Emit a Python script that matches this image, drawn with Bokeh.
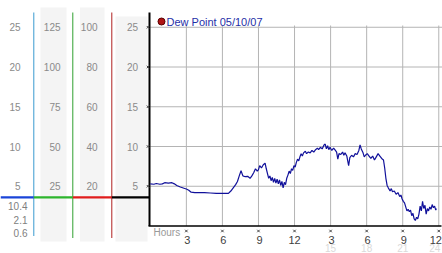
from bokeh.plotting import figure
from bokeh.models import Range1d
from bokeh.core.properties import value
from bokeh.embed import file_html
from bokeh.resources import INLINE

# ---------------- data ----------------
hours = [0.0, 0.3, 0.5, 0.8, 1.0, 1.2, 1.5, 1.8, 2.0, 2.2, 2.5, 2.8, 3.0, 3.2, 3.4, 3.7,
         4.0, 4.5, 5.0, 5.5, 6.0, 6.5, 6.7, 6.9, 7.1, 7.25, 7.4, 7.55, 7.7, 7.9, 8.1, 8.3,
         8.45, 8.6, 8.75, 8.9, 9.0, 9.1, 9.25, 9.4, 9.55, 9.65, 9.75, 9.85, 9.95, 10.05,
         10.15, 10.25, 10.35, 10.45, 10.55, 10.65, 10.75, 10.85, 10.95, 11.05, 11.15, 11.25,
         11.35, 11.45, 11.55, 11.65, 11.75, 11.85, 11.95, 12.05, 12.15, 12.25, 12.35, 12.45,
         12.55, 12.65, 12.75, 12.9, 13.0, 13.15, 13.3, 13.45, 13.6, 13.75, 13.9, 14.0, 14.15,
         14.3, 14.45, 14.55, 14.65, 14.75, 14.85, 14.95, 15.1, 15.25, 15.4, 15.5, 15.6, 15.7,
         15.85, 16.0, 16.1, 16.2, 16.35, 16.5, 16.6, 16.75, 16.9, 17.05, 17.2, 17.35, 17.45,
         17.55, 17.7, 17.8, 17.9, 18.05, 18.2, 18.35, 18.5, 18.65, 18.8, 18.95, 19.1, 19.25,
         19.4, 19.5, 19.6, 19.7, 19.8, 19.95, 20.05, 20.15, 20.3, 20.45, 20.6, 20.75, 20.85,
         20.95, 21.05, 21.15, 21.25, 21.35, 21.45, 21.55, 21.65, 21.75, 21.85, 21.95, 22.05,
         22.15, 22.25, 22.35, 22.45, 22.55, 22.65, 22.75, 22.85, 22.95, 23.05, 23.15, 23.25,
         23.35, 23.45, 23.55, 23.65, 23.75, 23.8]
dew = [5.3, 5.25, 5.35, 5.25, 5.3, 5.45, 5.4, 5.45, 5.3, 5.1, 4.9, 4.75, 4.65, 4.5, 4.25, 4.2,
       4.2, 4.2, 4.15, 4.1, 4.1, 4.1, 4.4, 4.8, 5.2, 5.6, 6.3, 6.95, 6.3, 6.2, 6.25, 6.0,
       6.3, 6.7, 7.2, 6.9, 7.1, 7.6, 7.3, 7.7, 7.9, 7.2, 6.6, 6.0, 6.3, 5.7,
       6.1, 5.5, 6.0, 5.4, 5.9, 5.3, 5.8, 5.1, 5.6, 4.8, 5.5, 5.2,
       6.0, 6.4, 6.9, 6.6, 7.2, 7.0, 7.6, 7.4, 8.0, 8.4, 8.2, 8.7,
       9.1, 8.8, 9.2, 9.4, 9.1, 9.3, 9.2, 9.5, 9.3, 9.6, 9.8, 9.6, 9.9,
       9.7, 10.2, 10.3, 9.7, 10.1, 9.6, 9.9, 9.5, 9.8, 9.5, 9.3, 8.4, 9.1,
       9.0, 9.3, 8.9, 9.2, 8.8, 7.6, 8.6, 8.9, 8.7, 9.1, 9.0, 9.5, 10.2,
       9.7, 9.2, 8.7, 8.9, 9.1, 8.8, 8.5, 8.8, 8.3, 8.7, 9.1, 8.8, 8.5,
       8.3, 7.3, 6.0, 5.1, 4.8, 4.4, 4.7, 4.3, 4.4, 4.0, 4.2, 3.7, 3.9,
       3.4, 3.1, 2.9, 2.4, 1.9, 2.1, 1.8, 2.0, 1.3, 1.6, 0.9, 0.7,
       1.1, 0.9, 1.5, 2.5, 1.9, 3.1, 2.2, 2.6, 1.5, 2.2, 1.9, 2.4,
       2.1, 2.7, 2.3, 2.5, 2.0, 2.2]

x_ticks = [3, 6, 9, 12, 15, 18, 21, 24]
x_tick_labels = ["3", "6", "9", "12", "3", "6", "9", "12"]
x_sub_ticks = [15, 18, 21, 24]
x_sub_labels = ["15", "18", "21", "24"]
y_ticks = [5, 10, 15, 20, 25]
scale1_labels = [25, 20, 15, 10, 5]
scale2_labels = [125, 100, 75, 50, 25]
scale3_labels = [100, 80, 60, 40, 20]
scale4_labels = [25, 20, 15, 10, 5]
stats_labels = ["10.4", "2.1", "0.6"]
legend_text = "Dew Point 05/10/07"
current_level = 3.6

# ---------------- geometry helpers (pixel -> data) ----------------
W, H = 442, 253
X0, XS = 149.8, 12.02
Y0, YS = 225.5, 7.95


def hx(px):
    return (px - X0) / XS


def vy(py):
    return (Y0 - py) / YS


FONT = value("Liberation Sans")

p = figure(width=W, height=H, output_backend="svg", toolbar_location=None,
           x_range=Range1d(hx(0), hx(W)), y_range=Range1d(vy(H), vy(0)),
           x_axis_location=None, y_axis_location=None, min_border=0,
           outline_line_color=None, background_fill_color="white",
           border_fill_color="white")
p.xgrid.visible = False
p.ygrid.visible = False

# gray column backgrounds
p.quad(left=[hx(40), hx(79.5), hx(115)], right=[hx(66), hx(104), hx(147)],
       bottom=[vy(241), vy(241), vy(241)], top=[vy(7), vy(7), vy(16)],
       fill_color="#f4f4f4", line_color=None)

# colored column lines
p.segment(x0=[hx(33.3), hx(72.3), hx(111.3)], x1=[hx(33.3), hx(72.3), hx(111.3)],
          y0=[vy(12)] * 3, y1=[vy(235.5), vy(237.5), vy(237.5)],
          line_color=["#3a9ad0", "#2fa02f", "#b02020"], line_width=1)

# horizontal "current level" bars
p.segment(x0=[hx(0), hx(33.3), hx(72.3), hx(111.3)],
          x1=[hx(33.3), hx(72.3), hx(111.3), hx(149)],
          y0=[current_level] * 4, y1=[current_level] * 4,
          line_color=["#1a44d8", "#2db52d", "#e01c1c", "#000000"], line_width=2.2)

# column tick labels
lab_col = "#8a8a8a"
p.text(x=[hx(20)] * 5, y=[v for v in scale1_labels], text=[str(v) for v in scale1_labels],
       text_font=FONT, text_font_size="10px", text_color=lab_col,
       text_align="right", text_baseline="middle")
p.text(x=[hx(60)] * 5, y=[v / 5 for v in scale2_labels], text=[str(v) for v in scale2_labels],
       text_font=FONT, text_font_size="10px", text_color=lab_col,
       text_align="right", text_baseline="middle")
p.text(x=[hx(97)] * 5, y=[v / 4 for v in scale3_labels], text=[str(v) for v in scale3_labels],
       text_font=FONT, text_font_size="10px", text_color=lab_col,
       text_align="right", text_baseline="middle")
p.text(x=[hx(137.5)] * 5, y=[v for v in scale4_labels], text=[str(v) for v in scale4_labels],
       text_font=FONT, text_font_size="10px", text_color=lab_col,
       text_align="right", text_baseline="middle")

# stats labels
p.text(x=[hx(27)] * 3, y=[vy(205), vy(219), vy(232.5)], text=stats_labels,
       text_font=FONT, text_font_size="10px", text_color="#808080",
       text_align="right", text_baseline="middle")

# grid lines
p.segment(x0=x_ticks, x1=x_ticks, y0=[0] * len(x_ticks), y1=[vy(25)] * len(x_ticks),
          line_color="#b4b4b4", line_width=1)
p.segment(x0=[0] * len(y_ticks), x1=[hx(W)] * len(y_ticks), y0=y_ticks, y1=y_ticks,
          line_color="#b4b4b4", line_width=1)

# axes lines
p.segment(x0=[hx(149)], x1=[hx(149)], y0=[0], y1=[vy(12)], line_color="black", line_width=2)
p.segment(x0=[hx(148)], x1=[hx(441)], y0=[0], y1=[0], line_color="black", line_width=1.5)

# small tick markers
p.scatter(x=[hx(147.5)] * len(y_ticks), y=y_ticks, marker="x", size=3.5,
          line_color="#444444", line_width=1)
p.scatter(x=x_ticks, y=[vy(230.5)] * len(x_ticks), marker="x", size=3.5,
          line_color="#444444", line_width=1)

# data line
p.line(hours, dew, line_color="#10109a", line_width=1.2)

# x labels (last label nudged inward so it stays inside the page)
p.text(x=x_ticks, y=[vy(239.5)] * len(x_ticks), text=x_tick_labels,
       x_offset=[1, 1, 1, 0, 1, 1, 1, -3],
       text_font=FONT, text_font_size="11px", text_color="#404040",
       text_align="center", text_baseline="middle")
p.text(x=x_sub_ticks, y=[vy(247)] * len(x_sub_ticks), text=x_sub_labels,
       x_offset=[0, 0, 0, -4],
       text_font=FONT, text_font_size="10px", text_color="#dadada",
       text_align="center", text_baseline="middle")
p.text(x=[hx(153)], y=[vy(232)], text=["Hours"],
       text_font=FONT, text_font_size="10px", text_color="#999999",
       text_align="left", text_baseline="middle")

# legend
p.scatter(x=[hx(161)], y=[vy(21)], marker="circle", size=7,
          fill_color="#b01515", line_color="#5a0000", line_width=1)
p.text(x=[hx(166)], y=[vy(21)], text=[legend_text],
       text_font=FONT, text_font_size="11px", text_color="#1f2fa8",
       text_align="left", text_baseline="middle")

open("out.html", "w").write(file_html(p, INLINE))
